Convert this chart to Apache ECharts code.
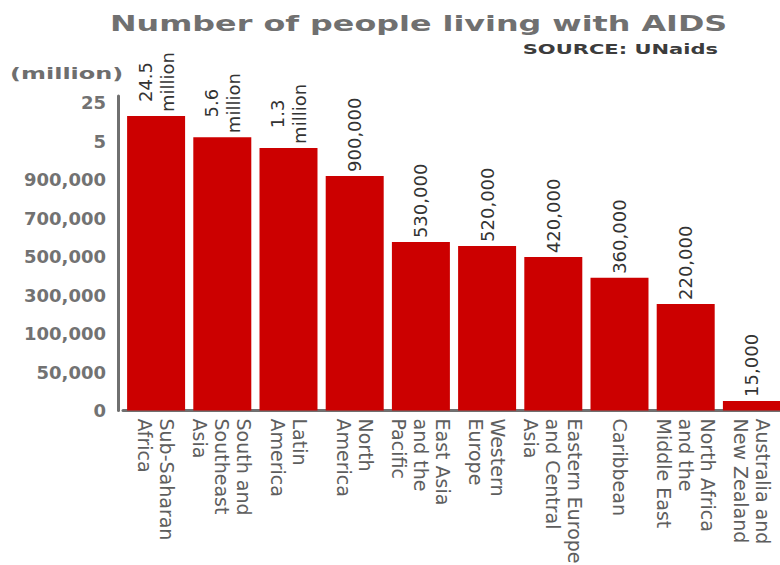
<!DOCTYPE html>
<html><head><meta charset="utf-8">
<script src="https://cdn.jsdelivr.net/npm/echarts@6/dist/echarts.min.js"></script>
<style>html,body{margin:0;padding:0;background:#fff}#c{width:780px;height:565px}</style>
</head><body><div id="c"></div>
<script>
const regions = ['Sub-Saharan\nAfrica', 'South and\nSoutheast\nAsia', 'Latin\nAmerica', 'North\nAmerica', 'East Asia\nand the\nPacific', 'Western\nEurope', 'Eastern Europe\nand Central\nAsia', 'Caribbean', 'North Africa\nand the\nMiddle East', 'Australia and\nNew Zealand'];
const peopleLiving = [24500000, 5600000, 1300000, 900000, 530000, 520000, 420000, 360000, 220000, 15000];
// bar heights, on the chart's own uneven printed scale (tick k = yTickLabels[k])
const scaleHeights = [7.66, 7.11, 6.83, 6.10, 4.38, 4.28, 3.99, 3.45, 2.77, 0.25];
const yTickLabels = ['0', '50,000', '100,000', '300,000', '500,000', '700,000', '900,000', '5', '25'];
const titleText = 'Number of people living with AIDS';
const sourceText = 'SOURCE: UNaids';
const unitText = '(million)';

const FONT = '"DejaVu Sans", Verdana, sans-serif';
function fmtPeople(v) {
  if (v >= 1e6) return '{a|' + (v / 1e6) + '}\n{a|million}';
  return '{a|' + v.toLocaleString('en-US') + '}';
}

const chart = echarts.init(document.getElementById('c'), null, {renderer: 'svg'});
chart.setOption({
  backgroundColor: '#ffffff',
  animation: false,
  graphic: [
    {type: 'text', x: 110, y: 23, scaleX: 1.445, style: {text: titleText, font: 'bold 22px ' + FONT, fill: '#707070', align: 'left', verticalAlign: 'middle'}},
    {type: 'text', x: 718, y: 49, scaleX: 1.45, style: {text: sourceText, font: 'bold 14.5px ' + FONT, fill: '#3c3c3c', align: 'right', verticalAlign: 'middle'}},
    {type: 'text', x: 10, y: 74, scaleX: 1.5, style: {text: unitText, font: 'bold 16px ' + FONT, fill: '#6e6e6e', align: 'left', verticalAlign: 'middle'}}
  ],
  grid: {left: 123, width: 662, top: 96, bottom: 154.5, containLabel: false, outerBoundsMode: 'none'},
  xAxis: {
    type: 'category',
    data: regions,
    axisLine: {lineStyle: {color: '#707070', width: 3}},
    axisTick: {show: false},
    axisLabel: {interval: 0, rotate: -90, margin: 8, fontSize: 19, lineHeight: 22, fontFamily: FONT, color: '#5e5e5e'}
  },
  yAxis: {
    type: 'value',
    min: 0, max: 8.18, interval: 1,
    offset: 5,
    splitLine: {show: false},
    axisTick: {show: false},
    axisLine: {show: true, lineStyle: {color: '#707070', width: 3}},
    axisLabel: {
      margin: 12, fontSize: 18, fontWeight: 'bold', fontFamily: FONT, color: '#727272',
      formatter: function (v) { return Number.isInteger(v) && yTickLabels[v] !== undefined ? yTickLabels[v] : ''; }
    }
  },
  series: [{
    type: 'bar',
    data: scaleHeights,
    barCategoryGap: '12.4%',
    itemStyle: {color: '#cc0000'},
    label: {
      show: true, position: 'top', distance: 4, rotate: 90, align: 'left', verticalAlign: 'middle',
      fontSize: 18, lineHeight: 22, fontFamily: FONT, color: '#333333',
      formatter: function (p) { return fmtPeople(peopleLiving[p.dataIndex]); },
      rich: {a: {align: 'center', fontSize: 18, lineHeight: 22, fontFamily: FONT, color: '#333333'}}
    }
  }]
});
</script>
</body></html>
